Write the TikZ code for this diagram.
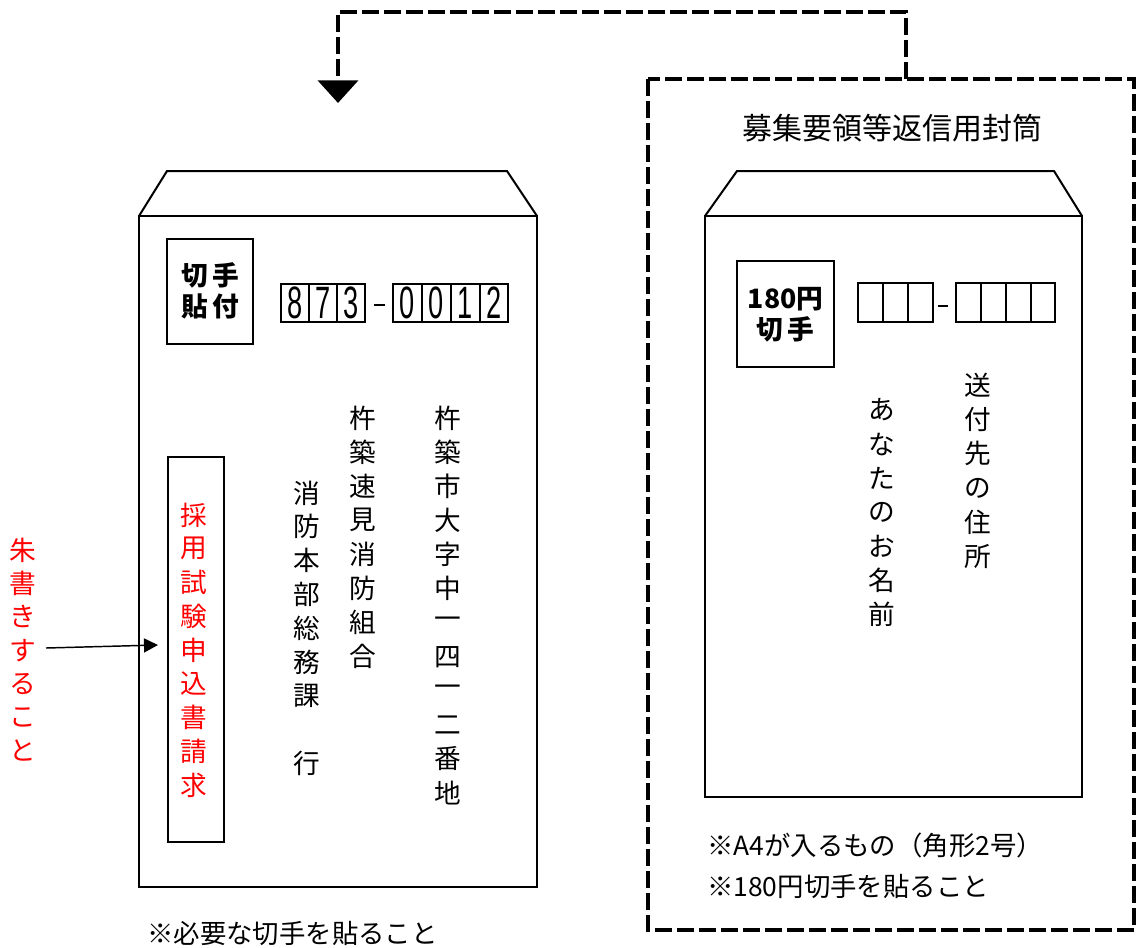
\documentclass[tikz,border=0pt]{standalone}
\usepackage{fontspec}
\setmainfont{Noto Sans CJK JP}
\newfontfamily\latfont{Liberation Sans}
\usetikzlibrary{arrows.meta}
\definecolor{redtext}{RGB}{255,0,0}
\newcommand\vcol[6]{% name, x, y0, step, style, list
  \foreach \ch [count=\i from 0] in {#6}{\node[#5] (#1-\i) at (#2,{#3+\i*#4}) {\ch};}}
\begin{document}
\begin{tikzpicture}[x=0.75pt,y=-0.75pt,
  env/.style={line width=1.5pt, line join=miter},
  frame/.style={line width=3pt, dash pattern=on 12.5pt off 4pt},
  cell/.style={line width=1.1pt},
  vt/.style={inner sep=0pt, font=\fontsize{20}{24}\selectfont},
  vtred/.style={vt, text=redtext},
  ht/.style={inner sep=0pt, anchor=west, font=\fontsize{19.8}{24}\selectfont},
  digit/.style={inner sep=0pt, font=\latfont\fontsize{34}{36}\selectfont},
  stamptxt/.style={inner sep=0pt, align=center, font=\bfseries\fontsize{20}{23}\selectfont}]
\useasboundingbox (0,0) rectangle (1137,947);

% ---------- left envelope ----------
\draw[env] (139,216) rectangle (537,887);
\draw[env] (139,216) -- (167,171) -- (507,171) -- (537,216);
\draw[env] (167,239) rectangle (253,344);
\node[stamptxt] (stampL) at (210,291) {切\,手\\貼\,付};

% postal code
\draw[cell] (281,284) rectangle (365,322);
\foreach \x in {309,337} \draw[cell] (\x,284) -- (\x,322);
\draw[cell] (393,284) rectangle (508,322);
\foreach \x in {422,451,480} \draw[cell] (\x,284) -- (\x,322);
\draw[line width=1.1pt] (374,305) -- (385,305);
\foreach \d/\x [count=\k] in {8/295,7/323,3/351,0/407.5,0/436.5,1/465.5,2/494}
  \node[digit] (pc-\k) at (\x,303) {\scalebox{0.6}[1]{\d}};

% address columns
\vcol{colA}{448}{418}{34.1}{vt}{杵,築,市,大,字,中,一,四,一,二,番,地}
\vcol{colB}{363}{418}{34.1}{vt}{杵,築,速,見,消,防,組,合}
\vcol{colC}{307}{493}{33.8}{vt}{消,防,本,部,総,務,課,{},行}

% red box
\draw[env] (168,457) rectangle (224,842);
\vcol{colR}{194}{515}{33.8}{vtred}{採,用,試,験,申,込,書,請,求}
\vcol{colS}{23}{550}{33.4}{vtred}{朱,書,き,す,る,こ,と}
\coordinate (redtail) at (46,648);
\draw[line width=1.1pt, -{Triangle[width=10.5pt,length=10.5pt]}] (redtail) -- (158,645) coordinate (redhead);

\node[ht] (noteL) at (147,934) {※必要な切手を貼ること};

% ---------- dashed frame & connector ----------
\draw[frame] (648,79) rectangle (1134,930);
\coordinate (cfrom) at (906,79);
\coordinate (c1) at (906,12);
\coordinate (c2) at (338,12);
\coordinate (cto) at (338,103);
\draw[frame, -{Triangle[width=30pt,length=17pt]}] (cfrom) -- (c1) -- (c2) -- (cto);

\node[inner sep=0pt, font=\fontsize{22.5}{24}\selectfont] (title) at (892,128) {募集要領等返信用封筒};

% ---------- right envelope ----------
\draw[env] (705,216) rectangle (1082,797);
\draw[env] (705,216) -- (737,171) -- (1054,171) -- (1082,216);
\draw[env] (737,261) rectangle (834,367);
\node[stamptxt] (stampR) at (785.5,315) {180円\\切\,手};

\draw[cell] (858,283) rectangle (933,322);
\foreach \x in {883,908} \draw[cell] (\x,283) -- (\x,322);
\draw[cell] (956,283) rectangle (1055,322);
\foreach \x in {981,1006,1031} \draw[cell] (\x,283) -- (\x,322);
\draw[line width=1pt] (938,306) -- (948,306);

\vcol{colT}{978}{385}{34.4}{vt}{送,付,先,の,住,所}
\vcol{colU}{882}{410}{34}{vt}{あ,な,た,の,お,名,前}

\node[ht] (noteR1) at (707,845) {※A4が入るもの（角形2号）};
\node[ht] (noteR2) at (707,887) {※180円切手を貼ること};
\end{tikzpicture}
\end{document}
